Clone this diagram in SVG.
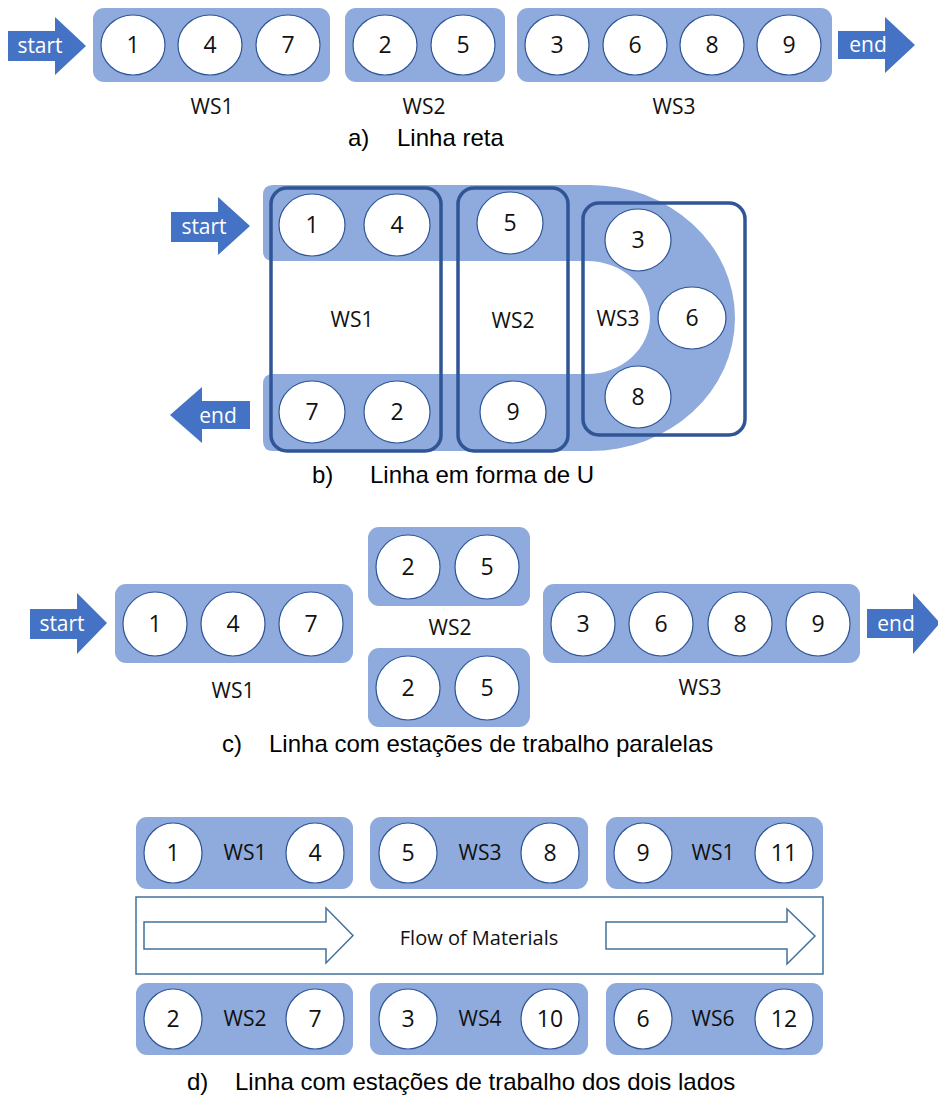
<svg xmlns="http://www.w3.org/2000/svg" width="938" height="1097" viewBox="0 0 938 1097">
<style>
.box{fill:#8FAADC;}
.arr{fill:#4472C4;}
.c{fill:#fff;stroke:#2F5597;stroke-width:1.2;}
.ol{fill:none;stroke:#2F5597;stroke-width:3.5;}
.n{font-family:"Open Sans",sans-serif;font-size:23px;fill:#111;text-anchor:middle;}
.l{font-family:"Open Sans",sans-serif;font-size:21px;fill:#111;text-anchor:middle;}
.w{font-family:"Open Sans",sans-serif;font-size:21px;fill:#fff;text-anchor:middle;}
.cap{font-family:"Liberation Sans",Arial,sans-serif;font-size:24px;fill:#000;}
.hol{fill:#fff;stroke:#41719C;stroke-width:1.5;}
</style>
<rect width="938" height="1097" fill="#fff"/>

<!-- ===== a) ===== -->
<g id="a-start"><polygon class="arr" points="8,31 55,31 55,17 86,46 55,75 55,61 8,61"/><text class="w" x="40" y="53">start</text></g>
<g id="a-ws1">
<rect class="box" x="93" y="8" width="237" height="74" rx="11"/>
<ellipse class="c" cx="133" cy="45" rx="32" ry="30"/><text class="n" x="133" y="53">1</text>
<ellipse class="c" cx="210" cy="45" rx="32" ry="30"/><text class="n" x="210" y="53">4</text>
<ellipse class="c" cx="288" cy="45" rx="32" ry="30"/><text class="n" x="288" y="53">7</text>
<text class="l" x="212" y="114">WS1</text>
</g>
<g id="a-ws2">
<rect class="box" x="345" y="8" width="160" height="74" rx="11"/>
<ellipse class="c" cx="385" cy="45" rx="32" ry="30"/><text class="n" x="385" y="53">2</text>
<ellipse class="c" cx="463" cy="45" rx="32" ry="30"/><text class="n" x="463" y="53">5</text>
<text class="l" x="424" y="114">WS2</text>
</g>
<g id="a-ws3">
<rect class="box" x="517" y="8" width="315" height="74" rx="11"/>
<ellipse class="c" cx="557" cy="45" rx="32" ry="30"/><text class="n" x="557" y="53">3</text>
<ellipse class="c" cx="635" cy="45" rx="32" ry="30"/><text class="n" x="635" y="53">6</text>
<ellipse class="c" cx="712" cy="45" rx="32" ry="30"/><text class="n" x="712" y="53">8</text>
<ellipse class="c" cx="789" cy="45" rx="32" ry="30"/><text class="n" x="789" y="53">9</text>
<text class="l" x="674" y="114">WS3</text>
</g>
<g id="a-end"><polygon class="arr" points="838,31 885,31 885,17 915,45 885,73 885,59 838,59"/><text class="w" x="868" y="52">end</text></g>
<text class="cap" x="348" y="146">a)<tspan x="397">Linha reta</tspan></text>

<!-- ===== b) ===== -->
<g id="b-track"><path class="box" d="M273,185 H590 A145,133 0 0 1 590,451 H273 Q263,451 263,441 V384 Q263,374 273,374 H587 A63,56.5 0 0 0 587,261 H273 Q263,261 263,251 V195 Q263,185 273,185 Z"/></g>
<g id="b-start"><polygon class="arr" points="171,212 218,212 218,197 250,226 218,255 218,242 171,242"/><text class="w" x="204" y="234">start</text></g>
<g id="b-end"><polygon class="arr" points="250,401 202,401 202,387 170,415 202,443 202,429 250,429"/><text class="w" x="218" y="423">end</text></g>
<g id="b-ws1">
<rect class="ol" x="271" y="188" width="170" height="263" rx="16"/>
<ellipse class="c" cx="312" cy="225" rx="33" ry="31"/><text class="n" x="312" y="233">1</text>
<ellipse class="c" cx="397" cy="225" rx="33" ry="31"/><text class="n" x="397" y="233">4</text>
<ellipse class="c" cx="312" cy="412" rx="33" ry="31"/><text class="n" x="312" y="420">7</text>
<ellipse class="c" cx="397" cy="412" rx="33" ry="31"/><text class="n" x="397" y="420">2</text>
<text class="l" x="352" y="327">WS1</text>
</g>
<g id="b-ws2">
<rect class="ol" x="458" y="188" width="110" height="263" rx="16"/>
<ellipse class="c" cx="510" cy="223" rx="33" ry="31"/><text class="n" x="510" y="231">5</text>
<ellipse class="c" cx="513" cy="412" rx="33" ry="31"/><text class="n" x="513" y="420">9</text>
<text class="l" x="513" y="328">WS2</text>
</g>
<g id="b-ws3">
<rect class="ol" x="583" y="203" width="162" height="232" rx="16"/>
<ellipse class="c" cx="638" cy="240" rx="33" ry="31"/><text class="n" x="638" y="248">3</text>
<ellipse class="c" cx="692" cy="318" rx="34" ry="31"/><text class="n" x="692" y="326">6</text>
<ellipse class="c" cx="638" cy="397" rx="33" ry="31"/><text class="n" x="638" y="405">8</text>
<text class="l" x="618" y="326">WS3</text>
</g>
<text class="cap" x="312" y="483">b)<tspan x="370">Linha em forma de U</tspan></text>

<!-- ===== c) ===== -->
<g id="c-start"><polygon class="arr" points="30,609 77,609 77,593 107,623 77,654 77,639 30,639"/><text class="w" x="62" y="631">start</text></g>
<g id="c-ws1">
<rect class="box" x="115" y="584" width="238" height="79" rx="11"/>
<ellipse class="c" cx="155" cy="624" rx="32" ry="32"/><text class="n" x="155" y="632">1</text>
<ellipse class="c" cx="233" cy="624" rx="32" ry="32"/><text class="n" x="233" y="632">4</text>
<ellipse class="c" cx="311" cy="624" rx="32" ry="32"/><text class="n" x="311" y="632">7</text>
<text class="l" x="233" y="698">WS1</text>
</g>
<g id="c-ws2a">
<rect class="box" x="368" y="527" width="162" height="79" rx="11"/>
<ellipse class="c" cx="408" cy="567" rx="32" ry="32"/><text class="n" x="408" y="575">2</text>
<ellipse class="c" cx="487" cy="567" rx="32" ry="32"/><text class="n" x="487" y="575">5</text>
</g>
<text class="l" x="450" y="635">WS2</text>
<g id="c-ws2b">
<rect class="box" x="368" y="648" width="162" height="79" rx="11"/>
<ellipse class="c" cx="408" cy="688" rx="32" ry="32"/><text class="n" x="408" y="696">2</text>
<ellipse class="c" cx="487" cy="688" rx="32" ry="32"/><text class="n" x="487" y="696">5</text>
</g>
<g id="c-ws3">
<rect class="box" x="543" y="584" width="317" height="79" rx="11"/>
<ellipse class="c" cx="583" cy="624" rx="32" ry="32"/><text class="n" x="583" y="632">3</text>
<ellipse class="c" cx="661" cy="624" rx="32" ry="32"/><text class="n" x="661" y="632">6</text>
<ellipse class="c" cx="740" cy="624" rx="32" ry="32"/><text class="n" x="740" y="632">8</text>
<ellipse class="c" cx="818" cy="624" rx="32" ry="32"/><text class="n" x="818" y="632">9</text>
<text class="l" x="700" y="695">WS3</text>
</g>
<g id="c-end"><polygon class="arr" points="867,609 913,609 913,593 940,623 913,654 913,638 867,638"/><text class="w" x="896" y="631">end</text></g>
<text class="cap" x="222" y="752">c)<tspan x="269">Linha com estações de trabalho paralelas</tspan></text>

<!-- ===== d) ===== -->
<g id="d-ws1">
<rect class="box" x="136" y="817" width="217" height="72" rx="11"/>
<ellipse class="c" cx="173" cy="853" rx="29" ry="30"/><text class="n" x="173" y="861">1</text>
<ellipse class="c" cx="315" cy="853" rx="29" ry="30"/><text class="n" x="315" y="861">4</text>
<text class="l" x="245" y="860">WS1</text>
</g>
<g id="d-ws3">
<rect class="box" x="370" y="817" width="218" height="72" rx="11"/>
<ellipse class="c" cx="408" cy="853" rx="29" ry="30"/><text class="n" x="408" y="861">5</text>
<ellipse class="c" cx="550" cy="853" rx="29" ry="30"/><text class="n" x="550" y="861">8</text>
<text class="l" x="480" y="860">WS3</text>
</g>
<g id="d-ws1b">
<rect class="box" x="606" y="817" width="217" height="72" rx="11"/>
<ellipse class="c" cx="643" cy="853" rx="29" ry="30"/><text class="n" x="643" y="861">9</text>
<ellipse class="c" cx="784" cy="853" rx="29" ry="30"/><text class="n" x="784" y="861">11</text>
<text class="l" x="713" y="860">WS1</text>
</g>
<g id="d-flow">
<rect x="136" y="897" width="687" height="77" fill="#fff" stroke="#41719C" stroke-width="1.5"/>
<text class="l" x="479" y="945" style="font-size:20px">Flow of Materials</text>
</g>
<g id="connectors">
<polygon class="hol" points="144,922 326,922 326,908 353,935.5 326,963 326,949 144,949"/>
<polygon class="hol" points="606,922 787,922 787,909 815,936 787,964 787,949 606,949"/>
</g>
<g id="d-ws2">
<rect class="box" x="136" y="983" width="217" height="72" rx="11"/>
<ellipse class="c" cx="173" cy="1019" rx="29" ry="30"/><text class="n" x="173" y="1027">2</text>
<ellipse class="c" cx="315" cy="1019" rx="29" ry="30"/><text class="n" x="315" y="1027">7</text>
<text class="l" x="245" y="1026">WS2</text>
</g>
<g id="d-ws4">
<rect class="box" x="370" y="983" width="218" height="72" rx="11"/>
<ellipse class="c" cx="408" cy="1019" rx="29" ry="30"/><text class="n" x="408" y="1027">3</text>
<ellipse class="c" cx="550" cy="1019" rx="29" ry="30"/><text class="n" x="550" y="1027">10</text>
<text class="l" x="480" y="1026">WS4</text>
</g>
<g id="d-ws6">
<rect class="box" x="606" y="983" width="217" height="72" rx="11"/>
<ellipse class="c" cx="643" cy="1019" rx="29" ry="30"/><text class="n" x="643" y="1027">6</text>
<ellipse class="c" cx="784" cy="1019" rx="29" ry="30"/><text class="n" x="784" y="1027">12</text>
<text class="l" x="713" y="1026">WS6</text>
</g>
<text class="cap" x="187" y="1090">d)<tspan x="235">Linha com estações de trabalho dos dois lados</tspan></text>
</svg>
